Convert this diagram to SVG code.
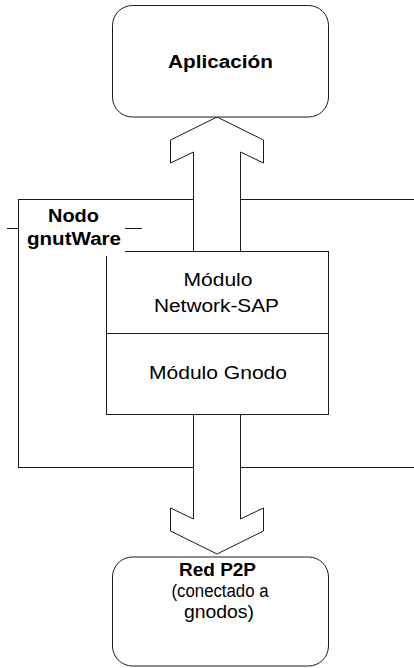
<svg xmlns="http://www.w3.org/2000/svg" width="414" height="668" viewBox="0 0 414 668">
<style>
.ln{fill:none;stroke:#1a1a1a;stroke-width:1}
.wf{fill:#fff;stroke:#1a1a1a;stroke-width:1}
.t{font-family:"Liberation Sans",Arial,sans-serif;font-size:18px;fill:#000;text-anchor:middle}
.b{font-weight:bold}
</style>
<rect width="414" height="668" fill="#fff"/>
<g id="nodo-gnutware">
<rect class="ln" x="18.5" y="199.5" width="420" height="268"/>
<line class="ln" x1="7" y1="228.5" x2="142" y2="228.5"/>
</g>
<g id="modulo-box">
<rect class="wf" x="106.5" y="251.5" width="222" height="163"/>
<line class="ln" x1="106.5" y1="333.5" x2="328.5" y2="333.5"/>
<text class="t" x="218" y="286" textLength="69" lengthAdjust="spacingAndGlyphs">Módulo</text>
<text class="t" x="216.5" y="312" textLength="125" lengthAdjust="spacingAndGlyphs">Network-SAP</text>
<text class="t" x="218" y="379" textLength="138" lengthAdjust="spacingAndGlyphs">Módulo Gnodo</text>
</g>
<g id="nodo-label">
<rect x="19" y="200" width="106" height="56" fill="#fff"/>
<text class="t b" x="73.5" y="222" textLength="51" lengthAdjust="spacingAndGlyphs">Nodo</text>
<text class="t b" x="74" y="245" textLength="94" lengthAdjust="spacingAndGlyphs">gnutWare</text>
</g>
<g id="connectors">
<polygon class="wf" points="217,117 170.5,140 170.5,163 193.5,152 193.5,251.5 240.5,251.5 240.5,152 263.5,163 263.5,140"/>
<polygon class="wf" points="193.5,414.5 193.5,519 170.5,508 170.5,531 217,554 263.5,531 263.5,508 240.5,519 240.5,414.5"/>
</g>
<g id="aplicacion">
<rect class="wf" x="112.5" y="5.5" width="216" height="111.5" rx="20"/>
<text class="t b" x="220.5" y="68" textLength="105" lengthAdjust="spacingAndGlyphs">Aplicación</text>
</g>
<g id="red-p2p">
<rect class="wf" x="112.5" y="557" width="216" height="109" rx="20"/>
<text class="t b" x="217.5" y="576" textLength="77" lengthAdjust="spacingAndGlyphs">Red P2P</text>
<text class="t" x="220" y="597" textLength="97" lengthAdjust="spacingAndGlyphs">(conectado a</text>
<text class="t" x="219" y="618" textLength="70" lengthAdjust="spacingAndGlyphs">gnodos)</text>
</g>
</svg>
